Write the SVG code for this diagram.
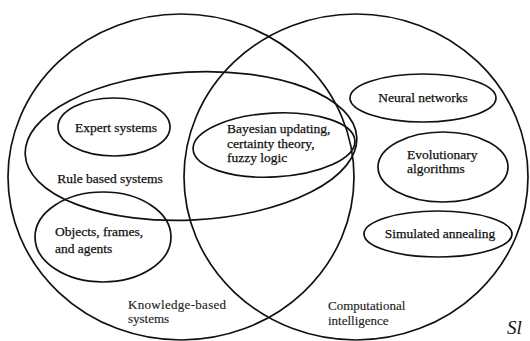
<svg xmlns="http://www.w3.org/2000/svg" width="530" height="341" viewBox="0 0 530 341">
<style>
.sh{fill:none;stroke:#111;stroke-width:1.7}
.t{font-family:"Liberation Serif","Times New Roman",Times,"DejaVu Serif",serif;font-size:13.5px;fill:#111;stroke:#111;stroke-width:0.25}
.s{font-family:"Liberation Serif","Times New Roman",Times,"DejaVu Serif",serif;font-size:13px;fill:#222;stroke:#222;stroke-width:0.15}
.i{font-family:"Liberation Serif","Times New Roman",Times,"DejaVu Serif",serif;font-style:italic;font-size:19px;fill:#111}
</style>
<rect width="530" height="341" fill="#fff"/>
<g id="knowledge-based">
<ellipse class="sh" cx="181" cy="177" rx="173" ry="163"/>
<text class="s" x="128" y="309" letter-spacing="0.3">Knowledge-based</text>
<text class="s" x="128" y="323">systems</text>
</g>
<g id="computational-intelligence">
<ellipse class="sh" cx="356" cy="177" rx="172" ry="163"/>
<text class="s" x="328" y="310">Computational</text>
<text class="s" x="328" y="325">intelligence</text>
</g>
<g id="rule-based">
<ellipse class="sh" cx="191" cy="146" rx="166" ry="74" transform="rotate(-3 191 146)"/>
<text class="t" x="110" y="183" text-anchor="middle">Rule based systems</text>
</g>
<g id="expert-systems">
<ellipse class="sh" cx="114" cy="127" rx="56" ry="29"/>
<text class="t" x="116" y="132" text-anchor="middle">Expert systems</text>
</g>
<g id="bayesian">
<ellipse class="sh" cx="274" cy="145" rx="81" ry="32" transform="rotate(-3 274 145)"/>
<text class="t" x="227" y="133">Bayesian updating,</text>
<text class="t" x="227" y="148">certainty theory,</text>
<text class="t" x="227" y="162">fuzzy logic</text>
</g>
<g id="objects">
<ellipse class="sh" cx="103" cy="237" rx="68" ry="45"/>
<text class="t" x="55" y="236">Objects, frames,</text>
<text class="t" x="55" y="253">and agents</text>
</g>
<g id="neural-networks">
<ellipse class="sh" cx="423" cy="98" rx="73" ry="24"/>
<text class="t" x="423" y="102" text-anchor="middle">Neural networks</text>
</g>
<g id="evolutionary">
<ellipse class="sh" cx="443" cy="167" rx="65" ry="35"/>
<text class="t" x="407" y="159">Evolutionary</text>
<text class="t" x="407" y="173">algorithms</text>
</g>
<g id="simulated-annealing">
<ellipse class="sh" cx="438" cy="234" rx="74" ry="23"/>
<text class="t" x="440" y="238" text-anchor="middle">Simulated annealing</text>
</g>
<g id="connectors"></g>
<text class="i" x="507" y="334">Sl</text>
</svg>
